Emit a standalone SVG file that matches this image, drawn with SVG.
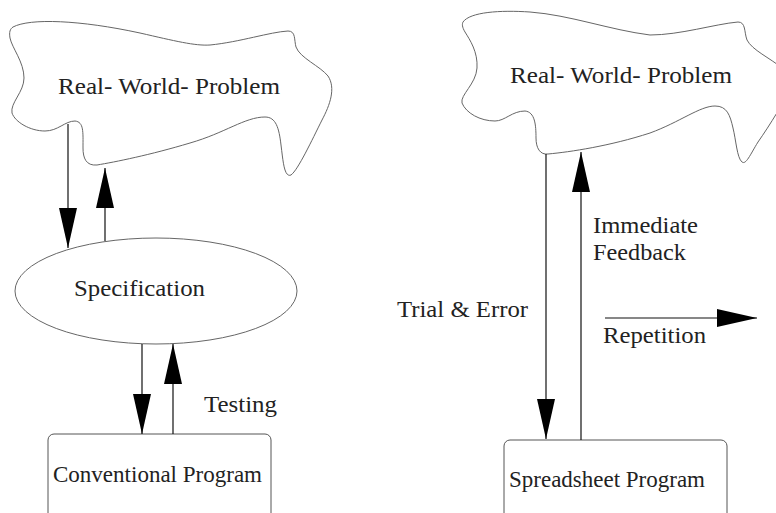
<svg xmlns="http://www.w3.org/2000/svg" width="776" height="513" viewBox="0 0 776 513">
<style>
  .shape { fill: #ffffff; stroke: #666666; stroke-width: 1; }
  .box { fill: #ffffff; stroke: #555555; stroke-width: 1; }
  .conn { stroke: #111111; stroke-width: 1.2; fill: none; marker-end: url(#head); }
  .t { font-family: 'Liberation Serif', serif; font-size: 24px; fill: #222222; }
</style>
<defs>
  <marker id="head" viewBox="0 0 40 18" refX="40" refY="9" markerWidth="40" markerHeight="18" markerUnits="userSpaceOnUse" orient="auto">
    <path d="M0,0 L40,9 L0,18 Z" fill="#000000"/>
  </marker>
</defs>
<rect width="776" height="513" fill="#ffffff"/>

<g id="problem-left">
  <path class="shape" d="M 13,27 C 30,18 80,20 140,33 C 175,41 195,46 210,45 C 240,42 270,32 288,31 C 296,31 294,40 296,47 C 300,58 320,66 328,76 C 336,88 330,105 322,120 C 312,140 298,170 291,175 C 284,178 283,160 281,145 C 279,128 276,117 265,117 C 245,117 225,133 190,143 C 150,155 115,162 97,165 C 86,166 83,158 83,148 C 83,132 84,122 75,121 C 65,121 58,131 45,131 C 30,131 15,122 12,113 C 10,103 24,92 24,78 C 24,62 12,48 10,38 C 9,32 10,29 13,27 Z"/>
  <text class="t" font-family="Liberation Serif, serif" x="58" y="94" textLength="222" lengthAdjust="spacingAndGlyphs">Real- World- Problem</text>
</g>

<g id="specification">
  <ellipse class="shape" cx="156" cy="291" rx="141" ry="53"/>
  <text class="t" font-family="Liberation Serif, serif" x="74" y="296" textLength="131" lengthAdjust="spacingAndGlyphs">Specification</text>
</g>

<g id="conventional-program">
  <rect class="box" x="48" y="434" width="223" height="100" rx="6"/>
  <text class="t" font-family="Liberation Serif, serif" x="53" y="482" textLength="209" lengthAdjust="spacingAndGlyphs">Conventional Program</text>
</g>

<g id="problem-right">
  <path class="shape" d="M 463,22 C 470,12 500,10 530,12 C 570,15 610,30 650,35 C 680,35 715,24 738,22 C 746,22 744,32 747,40 C 752,50 770,58 782,68 L 790,90 C 785,100 770,125 758,142 C 750,155 746,165 742,162 C 737,158 736,140 733,128 C 730,115 727,106 715,106 C 700,106 680,122 650,133 C 610,146 570,152 548,154 C 540,155 536,148 536,138 C 536,125 535,112 525,111 C 512,111 505,121 495,121 C 480,121 466,113 462,103 C 460,95 476,84 477,68 C 478,52 470,40 465,32 C 462,27 462,24 463,22 Z"/>
  <text class="t" font-family="Liberation Serif, serif" x="510" y="83" textLength="222" lengthAdjust="spacingAndGlyphs">Real- World- Problem</text>
</g>

<g id="spreadsheet-program">
  <rect class="box" x="504" y="440" width="223" height="100" rx="6"/>
  <text class="t" font-family="Liberation Serif, serif" x="509" y="487" textLength="196" lengthAdjust="spacingAndGlyphs">Spreadsheet Program</text>
</g>

<g id="connectors">
  <line class="conn" x1="68" y1="124" x2="68" y2="248"/>
  <line class="conn" x1="105" y1="241" x2="105" y2="168"/>
  <line class="conn" x1="142" y1="344" x2="142" y2="434"/>
  <line class="conn" x1="173" y1="434" x2="173" y2="344"/>
  <line class="conn" x1="546" y1="154" x2="546" y2="439"/>
  <line class="conn" x1="581" y1="440" x2="581" y2="152"/>
  <line class="conn" x1="605" y1="318" x2="757" y2="318"/>
</g>

<g id="labels">
  <text class="t" font-family="Liberation Serif, serif" x="204" y="412" textLength="73" lengthAdjust="spacingAndGlyphs">Testing</text>
  <text class="t" font-family="Liberation Serif, serif" x="593" y="233" textLength="105" lengthAdjust="spacingAndGlyphs">Immediate</text>
  <text class="t" font-family="Liberation Serif, serif" x="593" y="260" textLength="93" lengthAdjust="spacingAndGlyphs">Feedback</text>
  <text class="t" font-family="Liberation Serif, serif" x="397" y="317" textLength="131" lengthAdjust="spacingAndGlyphs">Trial &amp; Error</text>
  <text class="t" font-family="Liberation Serif, serif" x="603" y="343" textLength="103" lengthAdjust="spacingAndGlyphs">Repetition</text>
</g>
</svg>
